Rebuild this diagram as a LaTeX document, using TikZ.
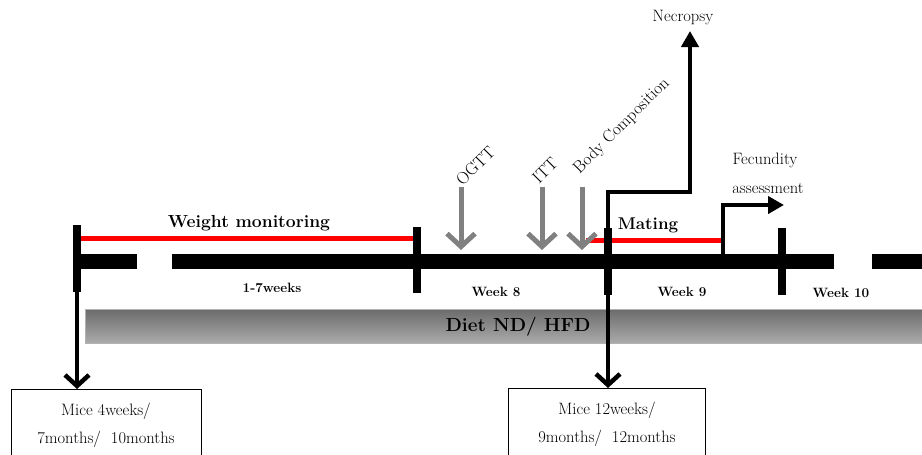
\documentclass[tikz,border=0pt]{standalone}
\usepackage{fontspec}
\usepackage{tikz}
\usetikzlibrary{arrows.meta}

\begin{document}
\begin{tikzpicture}[x=1pt,y=-1pt,
        bar/.style={line width=15pt},
        tick/.style={line width=8.5pt},
        redline/.style={red, line width=5pt},
        testarrow/.style={black!50, line width=5pt, -{Straight Barb[length=13pt,width=28pt]}},
        downarrow/.style={line width=4.5pt, -{Straight Barb[length=11pt,width=24pt]}},
        uparrow/.style={line width=4.5pt, -{Triangle[length=16pt,width=17pt]}},
        mousebox/.style={draw, line width=1pt, minimum height=72pt, anchor=north, align=center,
            font=\fontsize{16.5}{28}\selectfont},
        txt/.style={inner sep=0pt, font=\fontsize{16.5}{18}\selectfont},
        bold/.style={inner sep=0pt, font=\fontsize{#1}{#1}\selectfont\bfseries},
        testlbl/.style={inner sep=0pt, anchor=south west, rotate=45, font=\fontsize{17}{18}\selectfont}]
    \useasboundingbox (0,0) rectangle (922,455);
    \clip (0,0) rectangle (922,455);

    % diet bar
    \shade[top color=black!58, bottom color=black!33, draw=black!30] (85,309) rectangle (930,343);
    \node[bold=19] (diet) at (518,327) {Diet ND/ HFD};

    % red periods
    \draw[redline] (80,238) -- (413,238);
    \draw[redline] (586,240) -- (722,240);
    \node[bold=17.5] (weight) at (249,223) {Weight monitoring};
    \node[bold=17] (mating) at (648,225) {Mating};

    % timeline
    \draw[bar] (77,261.5) -- (137,261.5);
    \draw[bar] (172,261.5) -- (834,261.5);
    \draw[bar] (872,261.5) -- (930,261.5);
    \coordinate (t0a) at (77,225);    \coordinate (t0b) at (77,292);
    \coordinate (t8a) at (417,227);   \coordinate (t8b) at (417,293);
    \coordinate (t9a) at (608,228);   \coordinate (t9b) at (608,295);
    \coordinate (t10a) at (782,228);  \coordinate (t10b) at (782,295);
    \foreach \t in {t0,t8,t9,t10}
        \draw[tick] (\t a) -- (\t b);

    \node[bold=13.5] (w17) at (272,288) {1-7weeks};
    \node[bold=13.5] (w8) at (496,292) {Week 8};
    \node[bold=13.5] (w9) at (682,292) {Week 9};
    \node[bold=13.5] (w10) at (841,293) {Week 10};

    % tests
    \coordinate (ogtt) at (461,187);
    \coordinate (itt) at (542,187);
    \coordinate (body) at (582,187);
    \foreach \c in {ogtt,itt,body}
        \draw[testarrow] (\c) -- ++(0,63);
    \node[testlbl] (ogttlbl) at (463,187) {OGTT};
    \node[testlbl] (ittlbl) at (539,185) {ITT};
    \node[testlbl] (bodylbl) at (582,177) {Body Composition};

    % necropsy and fecundity
    \node[txt] (necropsy) at (683,18) {Necropsy};
    \draw[line width=4.5pt] (t9a) -- (608,192) -- (690,192);
    \draw[uparrow] (690,194.25) -- (690,31);
    \coordinate (fec) at (723,255);
    \draw[uparrow] (fec) -- (723,205) -- (784,205);
    \node[txt] (fecundity) at (765,160) {Fecundity};
    \node[txt] (assess) at (768,188) {assessment};

    % mice boxes
    \node[mousebox, minimum width=190pt] (box1) at (106,389) {Mice 4weeks/\\7months/\ \ 10months};
    \node[mousebox, minimum width=197pt] (box2) at (607,388) {Mice 12weeks/\\9months/\ \ 12months};
    \draw[downarrow] (t0b) -- (t0b |- box1.north);
    \draw[downarrow] (t9b) -- (t9b |- box2.north);
\end{tikzpicture}
\end{document}
